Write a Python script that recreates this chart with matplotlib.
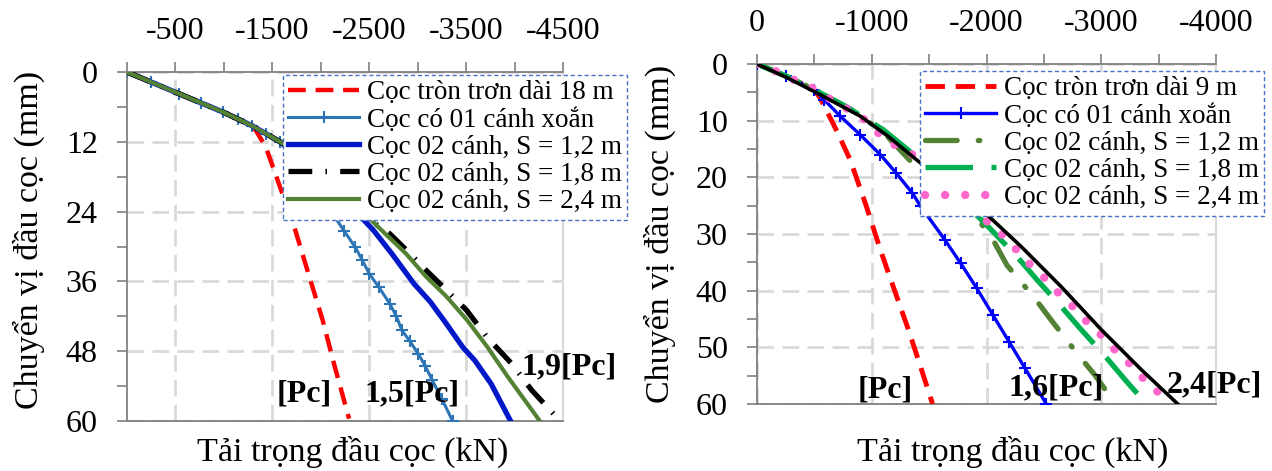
import matplotlib
matplotlib.use("Agg")
import matplotlib.pyplot as plt
from matplotlib.ticker import FixedLocator, MultipleLocator

plt.rcParams['font.family'] = ['Liberation Serif', 'DejaVu Serif']

# ---------------- data: left chart ----------------
L_labels = ["Cọc tròn trơn dài 18 m", "Cọc có 01 cánh xoắn", "Cọc 02 cánh, S = 1,2 m",
            "Cọc 02 cánh, S = 1,8 m", "Cọc 02 cánh, S = 2,4 m"]
L_red_x = [0, -532, -993, -1286, -1328, -1433, -1580, -1726, -1873, -2020, -2145, -2292]
L_red_y = [0, 3.7, 6.9, 9.2, 10.0, 12.9, 19.8, 26.6, 34.7, 42.7, 50.7, 59.6]
L_one_x = [0, -250, -532, -760, -993, -1150, -1286, -1430, -1580, -1700, -1850, -1990, -2124, -2240,
           -2355, -2430, -2501, -2600, -2711, -2780, -2837, -2920, -3004, -3080, -3151, -3250, -3360]
L_one_y = [0, 1.8, 3.7, 5.3, 6.9, 8.0, 9.2, 10.6, 12.0, 14.5, 17.6, 21.0, 24.4, 27.3,
           30.1, 32.4, 34.7, 37.0, 39.8, 42.0, 44.4, 46.3, 48.4, 50.6, 53.0, 56.2, 60.0]
L_s12_x = [0, -532, -993, -1286, -1580, -1800, -2050, -2334, -2543, -2732, -2962, -3130, -3297, -3465, -3590, -3758, -3959]
L_s12_y = [0, 3.7, 6.9, 9.2, 12.0, 14.8, 18.6, 23.5, 27.2, 31.2, 36.4, 39.5, 43.3, 47.3, 49.6, 53.6, 60]
L_s18_x = [0, -532, -993, -1286, -1580, -1850, -2130, -2418, -2711, -2920, -3088, -3297, -3507, -3716, -3968, -4177, -4470]
L_s18_y = [0, 3.7, 6.9, 9.2, 12.0, 15.0, 19.4, 24.4, 27.8, 31.2, 34.1, 37.5, 41.0, 45.6, 50.1, 54.7, 60]
L_s24_x = [0, -532, -993, -1286, -1580, -1850, -2130, -2418, -2627, -2878, -3088, -3297, -3507, -3716, -3926, -4261]
L_s24_y = [0, 3.7, 6.9, 9.2, 12.0, 15.0, 19.2, 23.8, 27.2, 31.2, 35.2, 38.6, 42.6, 47.2, 52.3, 60]
L_xticks_major = [-500, -1500, -2500, -3500, -4500]
L_xtick_labels = ["-500", "-1500", "-2500", "-3500", "-4500"]
L_yticks = [0, 12, 24, 36, 48, 60]
L_notes = ["[Pc]", "1,5[Pc]", "1,9[Pc]"]
L_notes_x = [-1827, -2941, -4560]
L_notes_y = [55.3, 55.3, 50.7]

# ---------------- data: right chart ----------------
R_labels = ["Cọc tròn trơn dài 9 m", "Cọc có 01 cánh xoắn", "Cọc 02 cánh, S = 1,2 m",
            "Cọc 02 cánh, S = 1,8 m", "Cọc 02 cánh, S = 2,4 m"]
R_red_x = [0, -250, -497, -550, -690, -812, -953, -1075, -1198, -1320, -1425, -1530]
R_red_y = [0, 2.1, 4.5, 6.0, 11.6, 16.9, 25.1, 32.8, 39.9, 46.9, 53.4, 60]
R_one_x = [0, -250, -497, -585, -725, -900, -1075, -1215, -1355, -1425, -1636,
           -1776, -1916, -2056, -2196, -2336, -2521]
R_one_y = [0, 2.1, 4.5, 6.3, 9.2, 12.5, 16.0, 19.3, 22.8, 25.1, 31.0,
           35.2, 39.6, 44.3, 49.0, 53.7, 60]
R_s12_x = [0, -250, -497, -800, -1100, -1355, -1650, -1951, -2056, -2178, -2336, -2423, -2564, -2791, -2949, -3124]
R_s12_y = [0, 2.1, 4.5, 7.8, 12.0, 17.5, 22.8, 28.1, 31.0, 35.5, 39.3, 41.4, 45.2, 51.1, 55.0, 60]
R_s18_x = [0, -250, -497, -800, -1100, -1355, -1650, -1986, -2266, -2441, -2651, -2826, -3036, -3211, -3394]
R_s18_y = [0, 2.1, 4.5, 7.8, 11.6, 15.8, 21.5, 28.1, 34.0, 38.1, 42.8, 46.9, 51.6, 55.8, 60]
R_s24_x = [0, -165, -322, -480, -620, -777, -918, -1058, -1215, -1355, -1500, -1650, -1800, -1960,
           -2126, -2248, -2371, -2494, -2616, -2739, -2861, -2984, -3106, -3229, -3352, -3474, -3597]
R_s24_y = [0, 1.3, 2.8, 4.2, 6.0, 7.8, 9.5, 12.2, 14.5, 16.0, 18.5, 21.4, 24.2, 27.0,
           29.9, 32.5, 35.2, 37.5, 40.2, 42.5, 45.2, 47.5, 50.2, 52.5, 55.2, 57.5, 60]
R_blk_x = [0, -250, -550, -900, -1145, -1390, -1700, -2021, -2301, -2651, -3001, -3352, -3667]
R_blk_y = [0, 2.3, 5.4, 9.2, 12.8, 16.9, 21.8, 26.9, 32.2, 39.3, 46.9, 54.0, 60]
R_xticks_major = [0, -1000, -2000, -3000, -4000]
R_xtick_labels = ["0", "-1000", "-2000", "-3000", "-4000"]
R_yticks = [0, 10, 20, 30, 40, 50, 60]
R_notes = ["[Pc]", "1,6[Pc]", "2,4[Pc]"]
R_notes_x = [-1115, -2606, -3983]
R_notes_y = [57.6, 57.1, 56.7]

xlabel_text = "Tải trọng đầu cọc (kN)"
ylabel_text = "Chuyển vị đầu cọc (mm)"

W, H = 1272, 471
fig = plt.figure(figsize=(W / 100, H / 100), dpi=100)

def px_ax(l, t, r, b):
    return fig.add_axes([l / W, 1 - b / H, (r - l) / W, (b - t) / H])

axL = px_ax(127, 72, 563, 421)
axR = px_ax(757, 64, 1216, 404)

GRID = '#D9D9D9'
SPINE = '#7F7F7F'

def style(ax, xmax, xmaj, xlabels, xminor_step, yticks, yminor_step):
    ax.set_xlim(0, xmax)
    ax.set_ylim(60, 0)
    ax.xaxis.tick_top()
    ax.xaxis.set_major_locator(FixedLocator(xmaj))
    ax.set_xticklabels(xlabels)
    ax.xaxis.set_minor_locator(MultipleLocator(xminor_step))
    ax.yaxis.set_major_locator(FixedLocator(yticks))
    ax.yaxis.set_minor_locator(MultipleLocator(yminor_step))
    ax.tick_params(axis='x', which='both', direction='out', length=7, width=1.2, color=SPINE,
                   labelsize=23, pad=12, top=True, bottom=False)
    ax.tick_params(axis='y', which='both', direction='out', length=7, width=1.2, color=SPINE,
                   labelsize=23, pad=14)
    ax.tick_params(axis='x', which='minor', labeltop=False)
    ax.grid(True, which='major', color=GRID, linestyle=(0, (6, 3)), linewidth=2, zorder=0)
    for s in ['left', 'top', 'bottom']:
        ax.spines[s].set_color(SPINE)
        ax.spines[s].set_linewidth(1.3)
    ax.spines['right'].set_color(GRID)
    ax.spines['right'].set_linewidth(1.5)
    ax.set_axisbelow(True)

style(axL, -4500, L_xticks_major, L_xtick_labels, 500, L_yticks, 6)
style(axR, -4000, R_xticks_major, R_xtick_labels, 500, R_yticks, 5)

# ---- left chart lines ----
l1, = axL.plot(L_red_x, L_red_y, color='#FF0000', lw=3.2, dashes=(4, 2.2), label=L_labels[0], zorder=3)
l2, = axL.plot(L_one_x, L_one_y, color='#2E75B6', lw=2.2, marker='+', ms=8, mew=1.5, label=L_labels[1], zorder=3)
l3, = axL.plot(L_s12_x, L_s12_y, color='#0018C8', lw=3.8, label=L_labels[2], zorder=3)
l4, = axL.plot(L_s18_x, L_s18_y, color='black', lw=3.8, dashes=(4.5, 2.5, 0.3, 2.5), label=L_labels[3], zorder=3)
l5, = axL.plot(L_s24_x, L_s24_y, color='#548235', lw=3.0, label=L_labels[4], zorder=3)

# ---- right chart lines ----
r1, = axR.plot(R_red_x, R_red_y, color='#FF0000', lw=3.5, dashes=(4, 2.2), label=R_labels[0], zorder=3)
r2, = axR.plot(R_one_x, R_one_y, color='#0000FF', lw=2.4, marker='+', ms=8, mew=1.5, label=R_labels[1], zorder=3)
r3, = axR.plot(R_s12_x, R_s12_y, color='#548235', lw=3.8, dashes=(6, 4, 0.3, 4),
               dash_capstyle='round', label=R_labels[2], zorder=3)
r4, = axR.plot(R_s18_x, R_s18_y, color='#00B050', lw=3.8, dashes=(9, 3.5), label=R_labels[3], zorder=3)
r5, = axR.plot(R_s24_x, R_s24_y, color='#FF66CC', lw=6.0, dashes=(0.01, 2.4),
               dash_capstyle='round', label=R_labels[4], zorder=3)
r6, = axR.plot(R_blk_x, R_blk_y, color='black', lw=2.6, zorder=4)

# ---- legends ----
def make_legend(ax, handles, labels, l, t):
    leg = ax.legend(handles, labels, loc='upper left',
                    bbox_to_anchor=(l / W, 1 - t / H), bbox_transform=fig.transFigure,
                    fontsize=19.5, frameon=True, fancybox=False, framealpha=1,
                    labelspacing=0.08, handlelength=2.6, handletextpad=0.3,
                    borderpad=0.2, borderaxespad=0, markerscale=1.0)
    fr = leg.get_frame()
    fr.set_edgecolor('#4472C4')
    fr.set_linestyle((0, (3, 2)))
    fr.set_linewidth(1.0)
    leg.set_zorder(10)
    return leg

make_legend(axL, [l1, l2, l3, l4, l5], L_labels, 283, 75)
make_legend(axR, [r1, r2, r3, r4, r5], R_labels, 920, 71)

# ---- annotations ----
for ax, notes, xs, ys in [(axL, L_notes, L_notes_x, L_notes_y), (axR, R_notes, R_notes_x, R_notes_y)]:
    for s, x, y in zip(notes, xs, ys):
        ax.text(x, y, s, fontsize=23, fontweight='bold', ha='center', va='center',
                clip_on=False, zorder=6)

# ---- axis titles ----
fig.text(29 / W, 1 - 240 / H, ylabel_text, rotation=90, ha='center', va='center', fontsize=24.5)
fig.text(660 / W, 1 - 234 / H, ylabel_text, rotation=90, ha='center', va='center', fontsize=24.5)
fig.text(353 / W, 1 - 452 / H, xlabel_text, ha='center', va='center', fontsize=24.5)
fig.text(1013 / W, 1 - 452 / H, xlabel_text, ha='center', va='center', fontsize=24.5)

fig.savefig('out.png', dpi=100)
